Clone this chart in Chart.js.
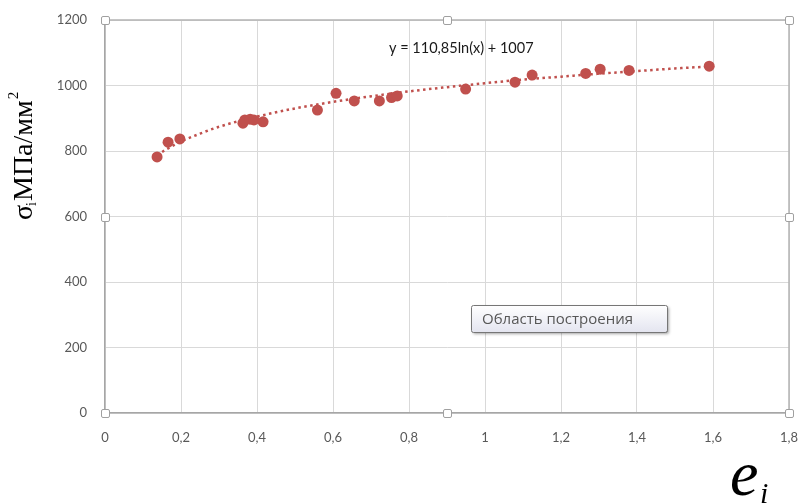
<!DOCTYPE html>
<html>
<head>
<meta charset="utf-8">
<script src="https://cdn.jsdelivr.net/npm/chart.js@4.4.1/dist/chart.umd.min.js"></script>
<style>
  html, body { margin: 0; padding: 0; background: #ffffff; }
  #wrap { width: 800px; height: 504px; position: relative; }
</style>
</head>
<body>
<div id="wrap"><canvas id="c" width="800" height="504"></canvas></div>
<script>
// Measured points (e_i, sigma_i)
const strainValues = [0.137, 0.166, 0.197, 0.363, 0.368, 0.382, 0.392, 0.416, 0.559, 0.608, 0.656, 0.722, 0.754, 0.769, 0.949, 1.079, 1.124, 1.265, 1.303, 1.379, 1.590];
const stressValues = [782, 827, 837, 885, 895, 897, 895, 889, 925, 976, 953, 953, 963, 968, 989, 1010, 1032, 1037, 1050, 1046, 1059];

// Logarithmic trendline
const trendX = [0.137, 0.16, 0.2, 0.25, 0.3, 0.4, 0.5, 0.6, 0.7, 0.8, 0.9, 1.0, 1.1, 1.2, 1.3, 1.4, 1.5, 1.59];
const trendY = [787, 804, 829, 853, 874, 905, 930, 950, 967, 982, 995, 1007, 1018, 1027, 1036, 1044, 1052, 1058];

const xTicks = [0, 0.2, 0.4, 0.6, 0.8, 1, 1.2, 1.4, 1.6, 1.8];
const yTicks = [0, 200, 400, 600, 800, 1000, 1200];

const equationText = 'y = 110,85ln(x) + 1007';
const tooltipText = 'Область построения';
const yTitleMain = 'σ';
const yTitleSub = 'i';
const yTitleRest = 'МПа/мм';
const yTitleSup = '2';
const xTitleMain = 'e';
const xTitleSub = 'i';

const RED = '#c0504d';

const decor = {
  id: 'decor',
  afterDraw(chart) {
    const ctx = chart.ctx;
    const a = chart.chartArea;
    ctx.save();
    // frame
    ctx.strokeStyle = '#b4b4b4';
    ctx.lineWidth = 1.5;
    ctx.beginPath();
    ctx.moveTo(a.left, a.top); ctx.lineTo(a.right, a.top); ctx.lineTo(a.right, a.bottom);
    ctx.stroke();
    // handles
    const midX = (a.left + a.right) / 2, midY = (a.top + a.bottom) / 2;
    const hs = [[a.left, a.top], [midX, a.top], [a.right, a.top], [a.left, midY], [a.right, midY], [a.left, a.bottom], [midX, a.bottom], [a.right, a.bottom]];
    hs.forEach(([hx, hy]) => {
      ctx.fillStyle = '#ffffff';
      ctx.strokeStyle = '#a0a0a0';
      ctx.lineWidth = 1;
      ctx.beginPath();
      if (ctx.roundRect) ctx.roundRect(Math.round(hx) - 3.5, Math.round(hy) - 3.5, 8, 8, 1.5);
      else ctx.rect(Math.round(hx) - 3.5, Math.round(hy) - 3.5, 8, 8);
      ctx.fill(); ctx.stroke();
    });
    // equation
    ctx.fillStyle = '#1a1a1a';
    ctx.font = '14.5px Lato, "Open Sans", sans-serif';
    ctx.textAlign = 'left';
    ctx.textBaseline = 'middle';
    ctx.fillText(equationText, 389, 48);

    // y title (rotated, serif)
    ctx.save();
    ctx.translate(26, 220);
    ctx.rotate(-Math.PI / 2);
    ctx.fillStyle = '#000000';
    ctx.textAlign = 'left';
    ctx.textBaseline = 'alphabetic';
    let px = 0;
    ctx.font = '28px "Liberation Serif", "DejaVu Serif", serif';
    ctx.fillText(yTitleMain, px, 6); px += ctx.measureText(yTitleMain).width;
    ctx.font = '14px "Liberation Serif", serif';
    ctx.fillText(yTitleSub, px - 1, 10); px += ctx.measureText(yTitleSub).width;
    ctx.font = '28px "Liberation Serif", "DejaVu Serif", serif';
    ctx.fillText(yTitleRest, px, 6); px += ctx.measureText(yTitleRest).width;
    ctx.font = '15px "Liberation Serif", serif';
    ctx.fillText(yTitleSup, px + 1, -8);
    ctx.restore();

    // x title
    ctx.fillStyle = '#000000';
    ctx.textAlign = 'left';
    ctx.textBaseline = 'alphabetic';
    ctx.font = 'italic 64px "Liberation Serif", "DejaVu Serif", serif';
    ctx.fillText(xTitleMain, 730, 495);
    ctx.font = 'italic 30px "Liberation Serif", serif';
    ctx.fillText(xTitleSub, 760, 503);

    // tooltip box
    const bx = 471, by = 305, bw = 196, bh = 27;
    ctx.save();
    ctx.shadowColor = 'rgba(0,0,0,0.35)';
    ctx.shadowBlur = 3;
    ctx.shadowOffsetX = 2;
    ctx.shadowOffsetY = 2;
    const g = ctx.createLinearGradient(0, by, 0, by + bh);
    g.addColorStop(0, '#ffffff');
    g.addColorStop(1, '#e4e5f0');
    ctx.fillStyle = g;
    ctx.beginPath();
    if (ctx.roundRect) ctx.roundRect(bx, by, bw, bh, 2); else ctx.rect(bx, by, bw, bh);
    ctx.fill();
    ctx.restore();
    ctx.strokeStyle = '#767676';
    ctx.lineWidth = 1;
    ctx.beginPath();
    if (ctx.roundRect) ctx.roundRect(bx + 0.5, by + 0.5, bw, bh, 2); else ctx.rect(bx + 0.5, by + 0.5, bw, bh);
    ctx.stroke();
    ctx.fillStyle = '#575757';
    ctx.font = '15px "Open Sans", sans-serif';
    ctx.textAlign = 'left';
    ctx.textBaseline = 'middle';
    ctx.fillText(tooltipText, bx + 11, by + bh / 2 + 1);
    ctx.restore();
  }
};

const pointData = strainValues.map((v, i) => ({ x: v, y: stressValues[i] }));
const trendData = trendX.map((v, i) => ({ x: v, y: trendY[i] }));

function zeroPad(s) { s.paddingLeft = 0; s.paddingRight = 0; s.paddingTop = 0; s.paddingBottom = 0; }

new Chart(document.getElementById('c'), {
  type: 'scatter',
  data: {
    datasets: [
      {
        label: 'data',
        data: pointData,
        backgroundColor: RED,
        borderColor: RED,
        pointRadius: 5.5,
        pointHoverRadius: 5.5,
        pointBorderWidth: 0
      },
      {
        label: 'trend',
        type: 'line',
        data: trendData,
        borderColor: RED,
        borderWidth: 2.5,
        borderDash: [2.5, 3.5],
        borderCapStyle: 'butt',
        pointRadius: 0,
        fill: false,
        tension: 0.4,
        cubicInterpolationMode: 'monotone'
      }
    ]
  },
  options: {
    responsive: false,
    animation: false,
    devicePixelRatio: 1,
    layout: { padding: { top: 20, right: 11, left: 0, bottom: 0 } },
    plugins: { legend: { display: false }, tooltip: { enabled: false } },
    scales: {
      x: {
        type: 'linear',
        min: 0, max: 1.8,
        afterBuildTicks: (s) => { s.ticks = xTicks.map(v => ({ value: v })); },
        afterFit: (s) => { s.height = 91; zeroPad(s); },
        grid: { color: '#d9d9d9', lineWidth: 1, drawTicks: false },
        border: { color: '#a6a6a6', width: 1.5 },
        ticks: {
          padding: 17,
          color: '#595959',
          font: { family: 'Lato, "Open Sans", sans-serif', size: 13 },
          maxRotation: 0,
          callback: (v) => String(Math.round(v * 10) / 10).replace('.', ',')
        }
      },
      y: {
        type: 'linear',
        min: 0, max: 1200,
        afterBuildTicks: (s) => { s.ticks = yTicks.map(v => ({ value: v })); },
        afterFit: (s) => { s.width = 105; zeroPad(s); },
        grid: { color: '#d9d9d9', lineWidth: 1, drawTicks: false },
        border: { color: '#a6a6a6', width: 1.5 },
        ticks: {
          padding: 18,
          color: '#595959',
          font: { family: 'Lato, "Open Sans", sans-serif', size: 13 },
          callback: (v) => String(v)
        }
      }
    }
  },
  plugins: [decor]
});
</script>
</body>
</html>
